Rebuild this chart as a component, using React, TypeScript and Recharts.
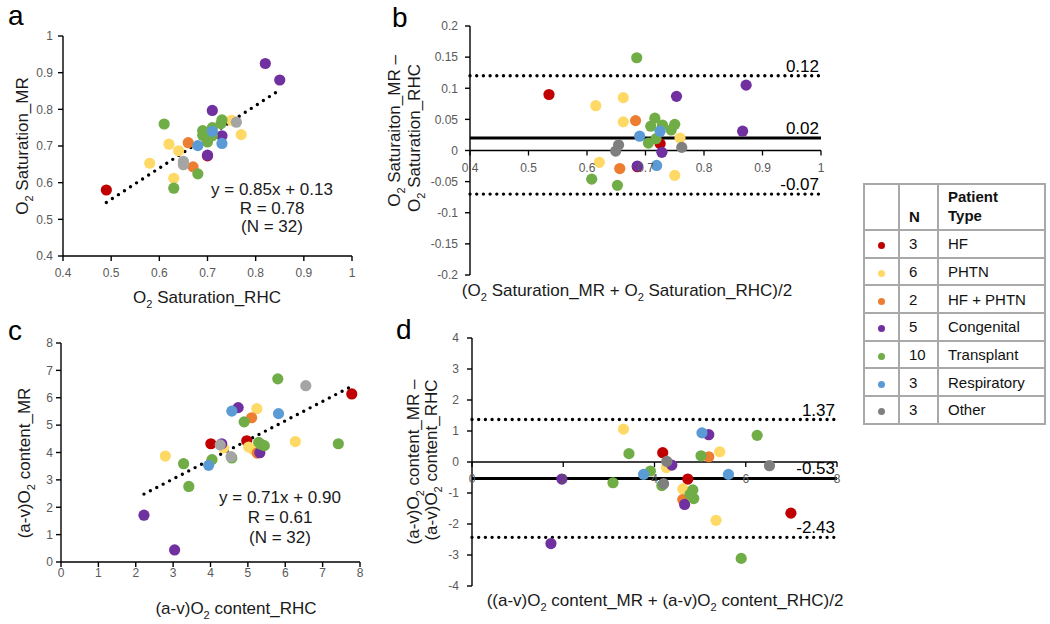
import React from "react";
import { ScatterChart, Scatter, XAxis, YAxis, ReferenceLine } from "recharts";

type Pt = [number, number];

const groups = ["HF", "PHTN", "HF + PHTN", "Congenital", "Transplant", "Respiratory", "Other"];
const groupN = [3, 6, 2, 5, 10, 3, 3];
const colorsLight = ["#C00000", "#FFD966", "#ED7D31", "#7030A0", "#70AD47", "#5B9BD5", "#A5A5A5"];
const colorsDark = ["#C00000", "#FFD966", "#ED7D31", "#7030A0", "#70AD47", "#5B9BD5", "#7F7F7F"];

// a: O2 saturation, RHC (x) vs MR (y), per group
const satCompare: Pt[][] = [
  [[0.49, 0.58], [0.7, 0.673], [0.71, 0.73]],
  [[0.58, 0.653], [0.62, 0.705], [0.64, 0.687], [0.63, 0.612], [0.75, 0.77], [0.77, 0.731]],
  [[0.66, 0.709], [0.67, 0.643]],
  [[0.82, 0.925], [0.85, 0.88], [0.71, 0.797], [0.7, 0.675], [0.73, 0.728]],
  [[0.61, 0.76], [0.63, 0.585], [0.68, 0.624], [0.69, 0.742], [0.69, 0.729], [0.71, 0.75], [0.73, 0.771], [0.728, 0.761], [0.7, 0.711], [0.71, 0.728]],
  [[0.68, 0.701], [0.71, 0.74], [0.73, 0.707]],
  [[0.65, 0.658], [0.65, 0.649], [0.76, 0.765]],
];
const satTrend: Pt[] = [[0.49, 0.546], [0.85, 0.853]];

// b: O2 saturation, mean (x) vs difference (y)
const satDiff: Pt[][] = [
  [[0.535, 0.09], [0.725, 0.011], [0.686, -0.026]],
  [[0.615, 0.072], [0.662, 0.085], [0.662, 0.046], [0.621, -0.019], [0.759, 0.02], [0.75, -0.04]],
  [[0.683, 0.048], [0.656, -0.029]],
  [[0.872, 0.105], [0.866, 0.031], [0.753, 0.087], [0.728, -0.003], [0.686, -0.025]],
  [[0.685, 0.149], [0.608, -0.046], [0.652, -0.056], [0.716, 0.052], [0.709, 0.039], [0.729, 0.041], [0.75, 0.042], [0.744, 0.033], [0.705, 0.012], [0.718, 0.019]],
  [[0.69, 0.023], [0.725, 0.031], [0.719, -0.024]],
  [[0.654, 0.009], [0.649, -0.001], [0.762, 0.005]],
];
const satLimits = [0.12, 0.02, -0.07];

// c: (a-v)O2 content, RHC (x) vs MR (y)
const avoCompare: Pt[][] = [
  [[7.78, 6.14], [4.01, 4.32], [4.97, 4.43]],
  [[5.24, 5.6], [4.35, 4.17], [5.02, 4.2], [6.27, 4.4], [2.79, 3.87], [5.15, 4.1]],
  [[5.1, 5.27], [5.25, 3.98]],
  [[2.22, 1.71], [3.04, 0.44], [4.74, 5.64], [4.3, 4.32], [5.32, 3.99]],
  [[5.8, 6.69], [4.9, 5.12], [5.29, 4.37], [5.44, 4.25], [7.42, 4.32], [4.57, 3.8], [4.04, 3.74], [3.28, 3.59], [3.42, 2.76], [5.35, 4.3]],
  [[4.57, 5.51], [5.82, 5.42], [3.95, 3.53]],
  [[6.55, 6.44], [4.26, 4.28], [4.55, 3.85]],
];
const avoTrend: Pt[] = [[2.22, 2.48], [7.78, 6.42]];

// d: (a-v)O2 content, mean (x) vs difference (y)
const avoDiff: Pt[][] = [
  [[4.18, 0.3], [4.73, -0.55], [6.99, -1.65]],
  [[3.32, 1.06], [4.26, -0.18], [4.62, -0.87], [4.64, -1.26], [5.43, 0.33], [5.35, -1.88]],
  [[4.62, -1.21], [5.19, 0.17]],
  [[1.73, -2.63], [1.97, -0.55], [4.38, -0.1], [4.66, -1.37], [5.19, 0.88]],
  [[3.44, 0.27], [3.09, -0.67], [3.91, -0.29], [4.16, -0.76], [4.84, -0.9], [4.86, -1.18], [4.78, -1.04], [5.02, 0.2], [5.9, -3.11], [6.25, 0.86]],
  [[3.76, -0.4], [5.04, 0.94], [5.62, -0.4]],
  [[4.27, 0.02], [4.2, -0.7], [6.52, -0.12]],
];
const avoLimits = [1.37, -0.53, -2.43];

const satTicks = [0.4, 0.5, 0.6, 0.7, 0.8, 0.9, 1];
const satDiffTicks = [-0.2, -0.15, -0.1, -0.05, 0, 0.05, 0.1, 0.15, 0.2];
const avoTicks = [0, 1, 2, 3, 4, 5, 6, 7, 8];
const avoDiffXTicks = [0, 2, 4, 6, 8];
const avoDiffYTicks = [-4, -3, -2, -1, 0, 1, 2, 3, 4];

const FONT = '"Liberation Sans", Arial, sans-serif';
const TICK = { fontSize: 12, fill: "#595959", fontFamily: FONT };
const fmt = (v: number) => String(parseFloat(v.toFixed(2)));

const dot = (color: string) => (p: any) => <circle cx={p.cx} cy={p.cy} r={5.6} fill={color} />;

const ZeroTick = ({ x, y, payload, lift }: any) => (
  <g>
    <line x1={x} x2={x} y1={y - lift} y2={y - lift + 5} stroke="#000" strokeWidth={1.3} />
    <text x={x} y={y - lift + 21} textAnchor="middle" {...TICK}>
      {fmt(payload.value)}
    </text>
  </g>
);

const LimitLabel = ({ viewBox, text }: any) => (
  <text x={viewBox.x + viewBox.width - 2} y={viewBox.y - 4} textAnchor="end" fontSize={17} fontFamily={FONT} fill="#000">
    {text}
  </text>
);

type PanelProps = {
  left: number;
  top: number;
  width: number;
  height: number;
  mTop: number;
  mRight: number;
  yWidth: number;
  xHeight: number;
  xDomain: [number, number];
  xTicks: number[];
  yDomain: [number, number];
  yTicks: number[];
  xTickMargin: number;
  yTickMargin: number;
  data: Pt[][];
  palette: string[];
  trend?: Pt[];
  limits?: number[];
};

function Panel(p: PanelProps) {
  const plotH = p.height - p.mTop - p.xHeight;
  const lift = p.limits ? (plotH * (0 - p.yDomain[0])) / (p.yDomain[1] - p.yDomain[0]) : 0;
  return (
    <div style={{ position: "absolute", left: p.left, top: p.top }}>
      <ScatterChart width={p.width} height={p.height} margin={{ top: p.mTop, right: p.mRight, left: 0, bottom: 0 }}>
        <XAxis
          type="number"
          dataKey="x"
          domain={p.xDomain}
          ticks={p.xTicks}
          interval={0}
          height={p.xHeight}
          tickFormatter={fmt}
          {...(p.limits
            ? {
                axisLine: false,
                tickLine: false,
                tickSize: 0,
                tickMargin: 0,
                tick: (tp: any) => <ZeroTick {...tp} lift={lift} />,
              }
            : {
                axisLine: { stroke: "#000", strokeWidth: 1.4 },
                tickLine: { stroke: "#000", strokeWidth: 1.4 },
                tickSize: 5,
                tickMargin: p.xTickMargin,
                tick: TICK,
              })}
        />
        <YAxis
          type="number"
          dataKey="y"
          domain={p.yDomain}
          ticks={p.yTicks}
          interval={0}
          width={p.yWidth}
          tickFormatter={fmt}
          axisLine={{ stroke: "#000", strokeWidth: 1.4 }}
          tickLine={{ stroke: "#000", strokeWidth: 1.4 }}
          tickSize={5}
          tickMargin={p.yTickMargin}
          tick={TICK}
        />
        {p.limits && <ReferenceLine y={0} stroke="#000" strokeWidth={1.3} />}
        {p.data.map((pts, i) => (
          <Scatter
            key={groups[i]}
            name={groups[i]}
            data={pts.map(([x, y]) => ({ x, y }))}
            shape={dot(p.palette[i])}
            isAnimationActive={false}
          />
        ))}
        {p.trend && (
          <ReferenceLine
            segment={p.trend.map(([x, y]) => ({ x, y }))}
            stroke="#000"
            strokeWidth={3.4}
            strokeDasharray="0 7.2"
            strokeLinecap="round"
          />
        )}
        {p.limits &&
          p.limits.map((v, i) => (
            <ReferenceLine
              key={"lim" + i}
              y={v}
              stroke="#000"
              strokeWidth={i === 1 ? 3 : 3.4}
              strokeDasharray={i === 1 ? undefined : "0 6.7"}
              strokeLinecap={i === 1 ? "butt" : "round"}
              label={<LimitLabel text={v.toFixed(2)} />}
            />
          ))}
      </ScatterChart>
    </div>
  );
}

function SubText({ text, fs }: { text: string; fs: number }) {
  const parts = text.split("₂");
  return (
    <>
      {parts.map((s, i) =>
        i === 0 ? (
          <tspan key={i}>{s}</tspan>
        ) : (
          <React.Fragment key={i}>
            <tspan fontSize={fs * 0.65} dy={fs * 0.28}>2</tspan>
            <tspan dy={-fs * 0.28}>{s}</tspan>
          </React.Fragment>
        )
      )}
    </>
  );
}

const Title = ({ x, y, text, rotate, fs = 17, anchor = "middle" }: any) => (
  <text
    x={x}
    y={y}
    fontSize={fs}
    fontFamily={FONT}
    fill="#1a1a1a"
    textAnchor={anchor}
    transform={rotate ? `rotate(-90 ${x} ${y})` : undefined}
  >
    <SubText text={text} fs={fs} />
  </text>
);

function LegendTable() {
  const cell: React.CSSProperties = { border: "2px solid #A9A9A9", padding: "0 0 0 9px", height: 27.7, boxSizing: "border-box" };
  return (
    <table
      style={{
        position: "absolute",
        left: 863,
        top: 183,
        width: 181,
        borderCollapse: "collapse",
        tableLayout: "fixed",
        fontFamily: FONT,
        fontSize: 15,
        color: "#111",
      }}
    >
      <colgroup>
        <col style={{ width: 35 }} />
        <col style={{ width: 39 }} />
        <col style={{ width: 107 }} />
      </colgroup>
      <tbody>
        <tr>
          <td style={{ ...cell, height: 46 }} />
          <td style={{ ...cell, height: 46, fontWeight: "bold", verticalAlign: "bottom", paddingBottom: 4 }}>N</td>
          <td style={{ ...cell, height: 46, fontWeight: "bold", verticalAlign: "bottom", paddingBottom: 4, lineHeight: "19px" }}>
            Patient
            <br />
            Type
          </td>
        </tr>
        {groups.map((g, i) => (
          <tr key={g}>
            <td style={{ ...cell, padding: 0, textAlign: "center" }}>
              <span style={{ display: "inline-block", width: 7, height: 7, borderRadius: "50%", background: colorsDark[i] }} />
            </td>
            <td style={cell}>{groupN[i]}</td>
            <td style={cell}>{g}</td>
          </tr>
        ))}
      </tbody>
    </table>
  );
}

export default function App() {
  return (
    <div style={{ position: "absolute", left: 0, top: 0, width: 1050, height: 624, background: "#fff", overflow: "hidden" }}>
      <Panel
        left={0} top={0} width={360} height={300} mTop={36} mRight={8} yWidth={63} xHeight={44}
        xDomain={[0.4, 1]} xTicks={satTicks} yDomain={[0.4, 1]} yTicks={satTicks}
        xTickMargin={7} yTickMargin={5}
        data={satCompare} palette={colorsLight} trend={satTrend}
      />
      <Panel
        left={330} top={0} width={500} height={300} mTop={26} mRight={9} yWidth={140} xHeight={25}
        xDomain={[0.4, 1]} xTicks={satTicks} yDomain={[-0.2, 0.2]} yTicks={satDiffTicks}
        xTickMargin={0} yTickMargin={7}
        data={satDiff} palette={colorsDark} limits={satLimits}
      />
      <Panel
        left={0} top={290} width={370} height={334} mTop={53} mRight={10} yWidth={61} xHeight={62}
        xDomain={[0, 8]} xTicks={avoTicks} yDomain={[0, 8]} yTicks={avoTicks}
        xTickMargin={1} yTickMargin={3}
        data={avoCompare} palette={colorsLight} trend={avoTrend}
      />
      <Panel
        left={340} top={290} width={510} height={334} mTop={48} mRight={13} yWidth={132} xHeight={38}
        xDomain={[0, 8]} xTicks={avoDiffXTicks} yDomain={[-4, 4]} yTicks={avoDiffYTicks}
        xTickMargin={0} yTickMargin={8}
        data={avoDiff} palette={colorsDark} limits={avoLimits}
      />
      <LegendTable />
      <svg width={1050} height={624} style={{ position: "absolute", left: 0, top: 0, pointerEvents: "none" }}>
        <text x={8} y={25} fontSize={28} fontFamily={FONT}>a</text>
        <text x={392} y={27} fontSize={28} fontFamily={FONT}>b</text>
        <text x={8} y={340} fontSize={28} fontFamily={FONT}>c</text>
        <text x={396} y={339} fontSize={28} fontFamily={FONT}>d</text>

        <Title x={28} y={146} text="O₂ Saturation_MR" rotate />
        <Title x={207} y={303} text="O₂ Saturation_RHC" />
        <Title x={400} y={131} text="O₂ Saturaiton_MR –" rotate />
        <Title x={420} y={138} text="O₂ Saturation_RHC" rotate />
        <Title x={627} y={296} text="(O₂ Saturation_MR + O₂ Saturation_RHC)/2" />

        <Title x={30} y={463} text="(a-v)O₂ content_MR" rotate />
        <Title x={236} y={614} text="(a-v)O₂ content_RHC" />
        <Title x={419} y={462} text="(a-v)O₂ content_MR –" rotate />
        <Title x={437} y={460} text="(a-v)O₂ content_RHC" rotate />
        <Title x={665} y={606} text="((a-v)O₂ content_MR + (a-v)O₂ content_RHC)/2" />

        <Title x={272} y={195} text="y = 0.85x + 0.13" />
        <Title x={272} y={213.5} text="R = 0.78" />
        <Title x={272} y={232} text="(N = 32)" />
        <Title x={280} y={503} text="y = 0.71x + 0.90" />
        <Title x={280} y={523} text="R = 0.61" />
        <Title x={280} y={543} text="(N = 32)" />
      </svg>
    </div>
  );
}
